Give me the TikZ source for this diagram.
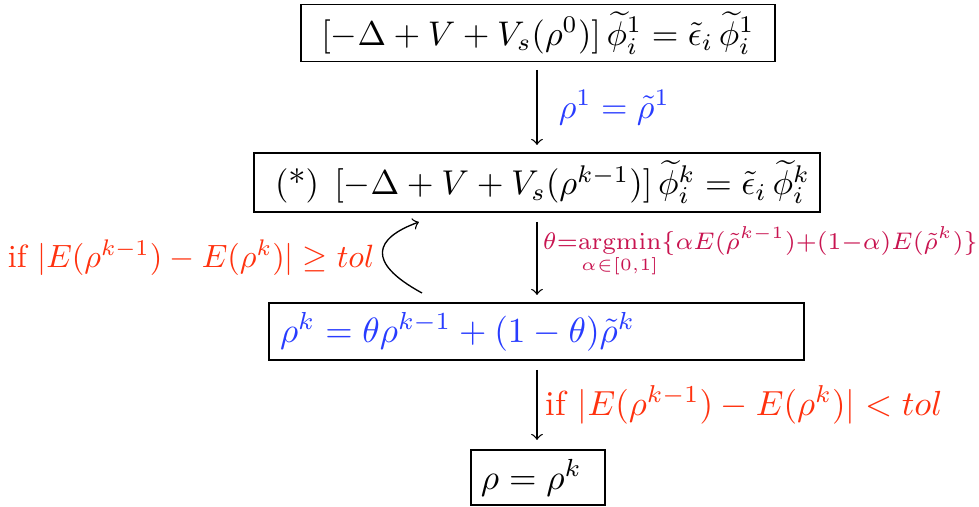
\documentclass[tikz,border=0pt]{standalone}
\usepackage{amsmath}
\definecolor{eqblue}{RGB}{40,60,255}
\definecolor{condred}{RGB}{255,50,15}
\definecolor{argcol}{RGB}{200,20,80}
\tikzset{
  eqbox/.style={draw, line width=0.4pt, inner sep=0pt, align=center},
  flow/.style={->, line width=0.4pt},
}
\begin{document}
\begin{tikzpicture}[x=0.3pt,y=-0.3pt]
\useasboundingbox (0,0) rectangle (979,507);
\node[eqbox, minimum width=142.2pt, minimum height=17.1pt] (b1) at (538,33)
  {\scalebox{1.026}{$[-\Delta+V+V_s(\rho^0)]\,\widetilde{\phi}_i^1=\tilde{\epsilon}_i\,\widetilde{\phi}_i^1$}};
\node[eqbox, text width=157.2pt, inner xsep=6.3pt, align=left, minimum height=17.7pt] (b2) at (537,182.5)
  {\scalebox{1.033}{(*)\;\,$[-\Delta+V+V_s(\rho^{k-1})]\,\widetilde{\phi}_i^k=\tilde{\epsilon}_i\,\widetilde{\phi}_i^k$}};
\node[eqbox, text width=153.9pt, inner xsep=3.3pt, align=left, minimum height=17.1pt, text=eqblue] (b3) at (536.5,331.5)
  {\scalebox{1.055}{$\rho^k=\theta\rho^{k-1}+(1-\theta)\tilde{\rho}^k$}};
\node[eqbox, text width=34.2pt, inner xsep=3pt, align=left, minimum height=16.5pt] (b4) at (538,477.5)
  {\scalebox{1.06}{$\rho=\rho^k$}};
\coordinate (a1s) at (537,70);
\coordinate (a1e) at (537,145);
\coordinate (a2s) at (537,222);
\coordinate (a2e) at (537,295);
\coordinate (a3s) at (537,370);
\coordinate (a3e) at (537,440);
\draw[flow] (a1s) -- (a1e) node[midway, right, text=eqblue, xshift=3pt] (l1) {\scalebox{1.02}{$\rho^1=\tilde{\rho}^1$}};
\draw[flow] (a2s) -- (a2e) node[pos=0.42, right, text=argcol, inner sep=1pt, xshift=0.6pt] (l2)
  {\scalebox{1.03}{$\scriptstyle\theta=\operatorname*{argmin}\limits_{\alpha\in[0,1]}\{\alpha E(\tilde{\rho}^{k-1})+(1-\alpha)E(\tilde{\rho}^k)\}$}};
\draw[flow] (a3s) -- (a3e) node[midway, right, text=condred, inner sep=1pt, xshift=1.5pt] (l3)
  {\scalebox{1.045}{if $|E(\rho^{k-1})-E(\rho^k)|<tol$}};
\coordinate (cs) at (422,293);
\coordinate (ce) at (419,222);
\draw[flow] (cs) .. controls (365,262) and (375,238) .. (ce);
\node[anchor=east, text=condred, inner sep=0pt] (l4) at (375,258)
  {\scalebox{0.966}{if $|E(\rho^{k-1})-E(\rho^k)|\geq tol$}};
\end{tikzpicture}
\end{document}
